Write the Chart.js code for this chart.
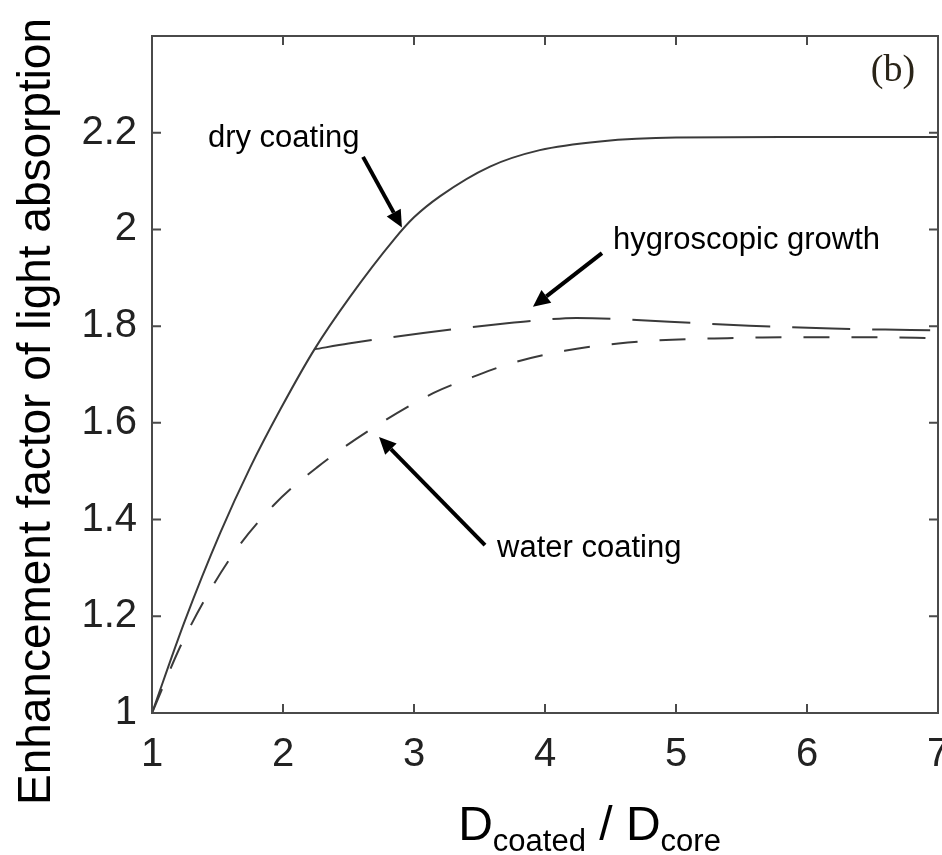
<!DOCTYPE html>
<html>
<head>
<meta charset="utf-8">
<script src="https://cdn.jsdelivr.net/npm/chart.js@4/dist/chart.umd.min.js"></script>
<style>
  html, body { margin: 0; padding: 0; background: #fff; }
  canvas { display: block; }
</style>
</head>
<body>
<canvas id="absorption_chart" width="942" height="855"></canvas>
<script>
  // values
  const X_TICKS = [1, 2, 3, 4, 5, 6, 7];
  const Y_TICKS = [1, 1.2, 1.4, 1.6, 1.8, 2, 2.2];

  const DRY_X = [1, 1.25, 1.52, 1.75, 1.98, 2.24, 2.51, 2.85, 3.0, 3.2, 3.58, 3.96, 4.42, 5, 6, 7];
  const DRY_Y = [1.0, 1.19, 1.372, 1.508, 1.628, 1.752, 1.86, 1.98, 2.025, 2.069, 2.13, 2.164, 2.182, 2.19, 2.191, 2.191];

  const HYGRO_X = [2.24, 2.5, 3.07, 3.71, 3.94, 4.24, 4.95, 5.56, 6.19, 6.79, 7];
  const HYGRO_Y = [1.752, 1.764, 1.786, 1.806, 1.812, 1.817, 1.809, 1.801, 1.795, 1.792, 1.791];

  const WATER_X = [1, 1.24, 1.6, 1.93, 2.26, 2.69, 3.15, 3.45, 3.75, 4.15, 4.56, 4.97, 5.39, 5.81, 6.5, 7];
  const WATER_Y = [1.0, 1.151, 1.321, 1.43, 1.508, 1.59, 1.662, 1.695, 1.724, 1.749, 1.764, 1.772, 1.775, 1.777, 1.777, 1.775];

  const LINE_COLOR = '#3a3a3a';
  const FRAME_COLOR = '#4a4a4a';
  const SANS = '"Liberation Sans", Arial, sans-serif';

  // labels with arrows, in data units
  const NOTES = [
    { text: 'dry coating', tx: 1.427, ty: 2.170, from: [2.611, 2.150], to: [2.908, 2.004] },
    { text: 'hygroscopic growth', tx: 4.519, ty: 1.959, from: [4.435, 1.951], to: [3.908, 1.840] },
    { text: 'water coating', tx: 3.634, ty: 1.323, from: [3.542, 1.347], to: [2.733, 1.571] }
  ];

  function toPoints(xs, ys) {
    return xs.map((x, i) => ({ x: x, y: ys[i] }));
  }

  function drawArrow(c, x1, y1, x2, y2) {
    const ang = Math.atan2(y2 - y1, x2 - x1);
    const head = 17, half = 8;
    const bx = x2 - head * Math.cos(ang), by = y2 - head * Math.sin(ang);
    c.strokeStyle = '#000';
    c.lineWidth = 4;
    c.beginPath();
    c.moveTo(x1, y1);
    c.lineTo(bx, by);
    c.stroke();
    c.fillStyle = '#000';
    c.beginPath();
    c.moveTo(x2, y2);
    c.lineTo(bx + half * Math.sin(ang), by - half * Math.cos(ang));
    c.lineTo(bx - half * Math.sin(ang), by + half * Math.cos(ang));
    c.closePath();
    c.fill();
  }

  const framePlugin = {
    id: 'frame',
    afterDraw(chart) {
      const c = chart.ctx;
      const a = chart.chartArea;
      const xs = chart.scales.x, ys = chart.scales.y;
      c.save();

      // box and inward ticks on all four sides
      c.strokeStyle = FRAME_COLOR;
      c.lineWidth = 2;
      c.strokeRect(a.left, a.top, a.right - a.left, a.bottom - a.top);
      c.beginPath();
      xs.ticks.forEach(t => {
        const px = xs.getPixelForValue(t.value);
        c.moveTo(px, a.bottom); c.lineTo(px, a.bottom - 9);
        c.moveTo(px, a.top); c.lineTo(px, a.top + 9);
      });
      ys.ticks.forEach(t => {
        const py = ys.getPixelForValue(t.value);
        c.moveTo(a.left, py); c.lineTo(a.left + 9, py);
        c.moveTo(a.right, py); c.lineTo(a.right - 9, py);
      });
      c.stroke();

      // annotations
      c.fillStyle = '#000';
      c.font = '31px ' + SANS;
      c.textBaseline = 'alphabetic';
      c.textAlign = 'left';
      NOTES.forEach(n => {
        c.fillText(n.text, xs.getPixelForValue(n.tx), ys.getPixelForValue(n.ty));
        drawArrow(c,
          xs.getPixelForValue(n.from[0]), ys.getPixelForValue(n.from[1]),
          xs.getPixelForValue(n.to[0]), ys.getPixelForValue(n.to[1]));
      });

      // panel letter
      c.fillStyle = '#2a2418';
      c.font = '38px "Liberation Serif", "Times New Roman", serif';
      c.textAlign = 'center';
      c.textBaseline = 'middle';
      c.fillText('(b)', xs.getPixelForValue(6.656), ys.getPixelForValue(2.328));

      // y axis title, squeezed to the height of the original
      const yTitle = 'Enhancement factor of light absorption';
      c.fillStyle = '#000';
      c.save();
      c.font = '46px ' + SANS;
      const squeeze = 787 / c.measureText(yTitle).width;
      c.translate(50, 411.5);
      c.rotate(-Math.PI / 2);
      c.scale(squeeze, 1);
      c.textAlign = 'center';
      c.textBaseline = 'alphabetic';
      c.fillText(yTitle, 0, 0);
      c.restore();

      // x axis title with subscripts
      const parts = [
        { s: 'D', size: 48, dy: 0 },
        { s: 'coated', size: 31, dy: 11 },
        { s: ' / ', size: 48, dy: 0 },
        { s: 'D', size: 48, dy: 0 },
        { s: 'core', size: 31, dy: 11 }
      ];
      let total = 0;
      parts.forEach(p => {
        c.font = p.size + 'px ' + SANS;
        p.w = c.measureText(p.s).width;
        total += p.w;
      });
      let x = xs.getPixelForValue(4.34) - total / 2;
      const base = a.bottom + 127;
      c.textAlign = 'left';
      c.textBaseline = 'alphabetic';
      parts.forEach(p => {
        c.font = p.size + 'px ' + SANS;
        c.fillText(p.s, x, base + p.dy);
        x += p.w;
      });

      c.restore();
    }
  };

  const ctx = document.getElementById('absorption_chart').getContext('2d');

  new Chart(ctx, {
    type: 'scatter',
    data: {
      datasets: [
        {
          label: 'dry coating',
          data: toPoints(DRY_X, DRY_Y),
          borderColor: LINE_COLOR,
          borderWidth: 2,
        },
        {
          label: 'hygroscopic growth',
          data: toPoints(HYGRO_X, HYGRO_Y),
          borderColor: LINE_COLOR,
          borderWidth: 2,
          borderDash: [58, 22],
        },
        {
          label: 'water coating',
          data: toPoints(WATER_X, WATER_Y),
          borderColor: LINE_COLOR,
          borderWidth: 2,
          borderDash: [26, 22],
        }
      ]
    },
    options: {
      responsive: false,
      animation: false,
      devicePixelRatio: 1,
      showLine: true,
      elements: {
        point: { radius: 0, hoverRadius: 0 },
        line: { cubicInterpolationMode: 'monotone', fill: false }
      },
      layout: { padding: { top: 36, right: 4, left: 0, bottom: 0 } },
      plugins: {
        legend: { display: false },
        tooltip: { enabled: false }
      },
      scales: {
        x: {
          type: 'linear',
          min: 1,
          max: 7,
          afterBuildTicks(scale) {
            scale.ticks = X_TICKS.map(v => ({ value: v }));
          },
          ticks: {
            padding: 18,
            color: '#222',
            font: { family: SANS, size: 40 }
          },
          grid: { display: false, drawTicks: false },
          border: { display: false },
          afterFit(scale) {
            scale.height = 142;
            scale.paddingLeft = 0;
            scale.paddingRight = 0;
          }
        },
        y: {
          type: 'linear',
          min: 1,
          max: 2.4,
          afterBuildTicks(scale) {
            scale.ticks = Y_TICKS.map(v => ({ value: v }));
          },
          ticks: {
            padding: 15,
            color: '#222',
            font: { family: SANS, size: 40 },
            callback: v => String(Math.round(v * 10) / 10)
          },
          grid: { display: false, drawTicks: false },
          border: { display: false },
          afterFit(scale) {
            scale.width = 152;
            scale.paddingTop = 0;
            scale.paddingBottom = 0;
          }
        }
      }
    },
    plugins: [framePlugin]
  });
</script>
</body>
</html>
